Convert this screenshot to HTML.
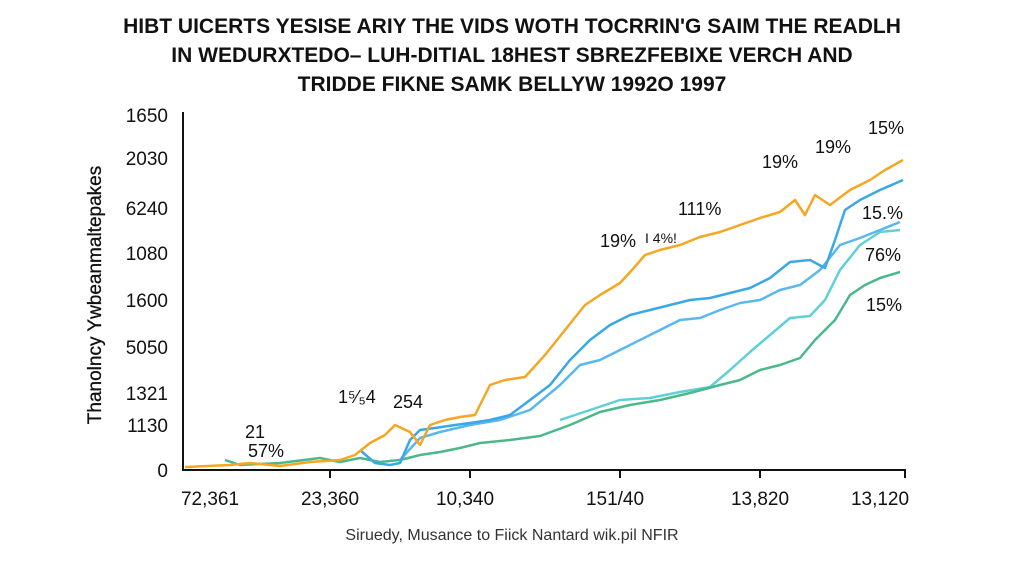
<!DOCTYPE html>
<html><head><meta charset="utf-8"><style>
html,body{margin:0;padding:0;background:#fff;}
svg{display:block;font-family:"Liberation Sans",sans-serif;}
</style></head><body>
<svg width="1024" height="576" viewBox="0 0 1024 576">
<rect width="1024" height="576" fill="#fff"/>
<g font-size="21" font-weight="bold" fill="#111" text-anchor="middle">
<text x="512" y="33">HIBT UICERTS YESISE ARIY THE VIDS WOTH TOCRRIN'G SAIM THE READLH</text>
<text x="512" y="62">IN WEDURXTEDO– LUH-DITIAL 18HEST SBREZFEBIXE VERCH AND</text>
<text x="512" y="91">TRIDDE FIKNE SAMK BELLYW 1992O 1997</text>
</g>
<g font-size="19" fill="#111" text-anchor="end">
<text x="168" y="122">1650</text>
<text x="168" y="165">2030</text>
<text x="168" y="215">6240</text>
<text x="168" y="260">1080</text>
<text x="168" y="307">1600</text>
<text x="168" y="354">5050</text>
<text x="168" y="400">1321</text>
<text x="168" y="432">1130</text>
<text x="168" y="477">0</text>
</g>
<text transform="translate(101,295) rotate(-90)" font-size="19" fill="#111" text-anchor="middle" stroke="#111" stroke-width="0.3">Thanolncy Ywbeanmaltepakes</text>
<g stroke="#111" stroke-width="2">
<line x1="183" y1="112" x2="183" y2="471"/>
<line x1="183" y1="470" x2="906" y2="470"/>
<line x1="330" y1="470" x2="330" y2="478"/><line x1="470" y1="470" x2="470" y2="478"/>
<line x1="620" y1="470" x2="620" y2="478"/><line x1="760" y1="470" x2="760" y2="478"/>
<line x1="905" y1="470" x2="905" y2="478"/>
</g>
<g font-size="19" fill="#111" text-anchor="middle">
<text x="210" y="505">72,361</text><text x="330" y="505">23,360</text><text x="465" y="505">10,340</text>
<text x="615" y="505">151/40</text><text x="760" y="505">13,820</text><text x="880" y="505">13,120</text>
</g>
<text x="512" y="540" font-size="16" fill="#333" text-anchor="middle">Siruedy, Musance to Fiick Nantard wik.pil NFIR</text>
<g fill="none" stroke-width="2.5" stroke-linejoin="round">
<polyline stroke="#5fcfd8" points="560,420 590,410 620,400 650,398 680,392 710,387 730,370 750,352 770,335 790,318 810,316 825,300 840,270 860,245 880,232 900,230"/>
<polyline stroke="#4cb88a" points="225,460 240,465 280,463 320,458 340,462 360,458 380,462 400,460 420,455 440,452 460,448 480,443 510,440 540,436 570,425 600,412 630,405 660,400 690,393 720,385 740,380 760,370 780,365 800,358 815,340 835,320 850,295 865,285 880,278 900,272"/>
<polyline stroke="#5ab8ee" points="400,460 420,438 440,432 470,425 500,420 530,410 560,385 580,365 600,360 620,350 650,335 680,320 700,318 720,310 740,303 760,300 780,290 800,285 820,270 840,245 860,238 880,230 900,222"/>
<polyline stroke="#3aa8e6" points="360,450 375,463 390,465 400,463 410,440 420,430 435,428 455,425 470,423 490,420 510,415 530,400 550,385 570,360 590,340 610,325 630,315 650,310 670,305 690,300 710,298 730,293 750,288 770,278 790,262 810,260 825,268 835,240 845,210 860,200 880,190 903,180"/>
<polyline stroke="#f5a623" points="185,467 230,465 250,463 280,466 310,462 340,460 355,455 370,443 385,435 395,425 410,432 420,445 430,425 445,420 460,417 475,415 490,385 505,380 525,377 545,355 565,330 585,305 600,295 620,283 632,270 645,255 660,250 680,245 700,237 720,232 740,225 760,218 780,212 795,200 805,215 815,195 830,205 850,190 870,180 885,170 903,160"/>
</g>
<g font-size="18" fill="#111">
<text x="600" y="247">19%</text><text x="645" y="243" font-size="14">I 4%!</text>
<text x="678" y="215">111%</text>
<text x="762" y="168">19%</text><text x="815" y="153">19%</text>
<text x="868" y="134">15%</text><text x="862" y="219">15.%</text>
<text x="865" y="261">76%</text><text x="866" y="311">15%</text>
<text x="338" y="403">1⁵⁄₅4</text><text x="393" y="408">254</text>
<text x="245" y="438">21</text><text x="248" y="457">57%</text>
</g>
</svg>
</body></html>
